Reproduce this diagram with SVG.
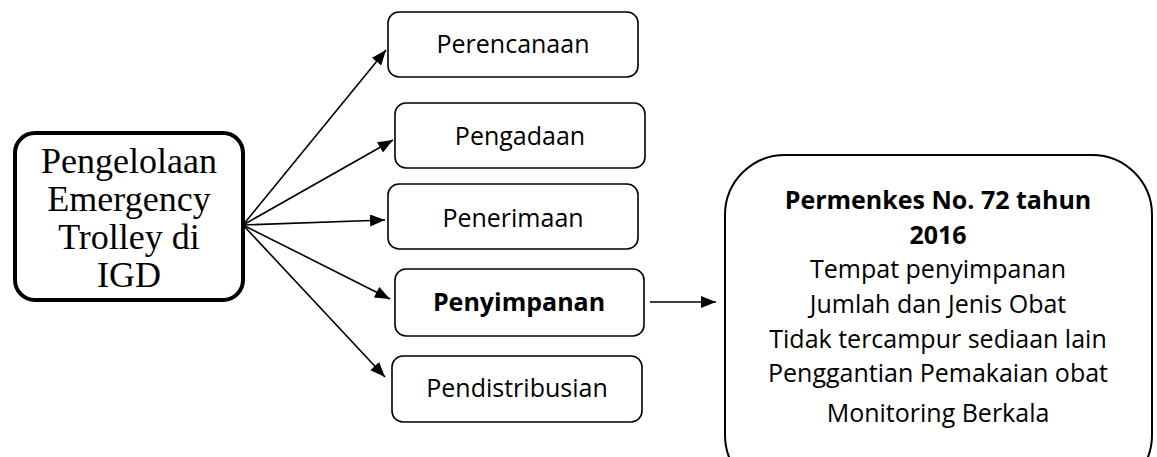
<svg xmlns="http://www.w3.org/2000/svg" width="1157" height="457" viewBox="0 0 1157 457">
<style>
.bg{fill:#fff}
.box{fill:#fff;stroke:#000;stroke-width:1.6}
.main{fill:#fff;stroke:#000;stroke-width:4}
.big{fill:#fff;stroke:#000;stroke-width:2}
.lbl{font-family:"Open Sans","Liberation Sans",sans-serif;font-size:25px;fill:#000;text-anchor:middle}
.b{font-weight:bold}
.serif{font-family:"Liberation Serif","Times New Roman",serif;font-size:36px;fill:#000;text-anchor:middle}
.conn{stroke:#000;stroke-width:1.6;fill:none}
</style>
<defs>
<marker id="ah" markerUnits="userSpaceOnUse" markerWidth="16" markerHeight="13" refX="15" refY="6" orient="auto">
<path d="M0,0 L15,6 L0,12 z" fill="#000"/>
</marker>
</defs>
<rect class="bg" x="0" y="0" width="1157" height="457"/>
<g id="node-main">
<rect class="main" x="15" y="133" width="228" height="167" rx="20"/>
<text class="serif" x="129" y="173">Pengelolaan</text>
<text class="serif" x="129" y="211">Emergency</text>
<text class="serif" x="129" y="249">Trolley di</text>
<text class="serif" x="129" y="287">IGD</text>
</g>
<g id="node-perencanaan">
<rect class="box" x="388" y="12" width="250" height="65" rx="11"/>
<text class="lbl" x="513" y="53">Perencanaan</text>
</g>
<g id="node-pengadaan">
<rect class="box" x="395" y="103" width="250" height="65" rx="11"/>
<text class="lbl" x="520" y="145">Pengadaan</text>
</g>
<g id="node-penerimaan">
<rect class="box" x="388" y="184" width="250" height="65" rx="11"/>
<text class="lbl" x="513" y="227">Penerimaan</text>
</g>
<g id="node-penyimpanan">
<rect class="box" x="395" y="269" width="249" height="67" rx="11"/>
<text class="lbl b" x="519" y="311">Penyimpanan</text>
</g>
<g id="node-pendistribusian">
<rect class="box" x="392" y="356" width="250" height="66" rx="11"/>
<text class="lbl" x="517" y="397">Pendistribusian</text>
</g>
<g id="node-permenkes">
<rect class="big" x="725" y="155" width="427" height="340" rx="60"/>
<text class="lbl b" x="938" y="209">Permenkes No. 72 tahun</text>
<text class="lbl b" x="938" y="244">2016</text>
<text class="lbl" x="938" y="278">Tempat penyimpanan</text>
<text class="lbl" x="938" y="313">Jumlah dan Jenis Obat</text>
<text class="lbl" x="938" y="348">Tidak tercampur sediaan lain</text>
<text class="lbl" x="938" y="382">Penggantian Pemakaian obat</text>
<text class="lbl" x="938" y="422">Monitoring Berkala</text>
</g>
<g id="connectors">
<line class="conn" x1="243" y1="225" x2="386" y2="50" marker-end="url(#ah)"/>
<line class="conn" x1="243" y1="225" x2="393" y2="140" marker-end="url(#ah)"/>
<line class="conn" x1="243" y1="225" x2="385" y2="220" marker-end="url(#ah)"/>
<line class="conn" x1="243" y1="225" x2="390" y2="299" marker-end="url(#ah)"/>
<line class="conn" x1="243" y1="225" x2="385" y2="377" marker-end="url(#ah)"/>
<line class="conn" x1="650" y1="302" x2="716" y2="302" marker-end="url(#ah)"/>
</g>
</svg>
